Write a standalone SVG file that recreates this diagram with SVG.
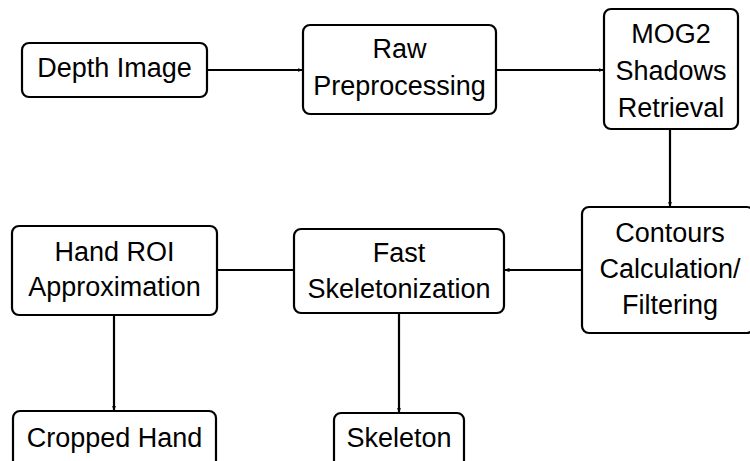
<svg xmlns="http://www.w3.org/2000/svg" width="750" height="461" viewBox="0 0 750 461">
<defs>
<style>
.box{fill:#fff;stroke:#000;stroke-width:2.2}
.t{font-family:"Liberation Sans",Arial,sans-serif;font-size:27px;fill:#000;text-anchor:middle}
.c{stroke:#000;stroke-width:2.2;fill:none}
</style>
<marker id="ah" viewBox="0 0 6 6" refX="5.5" refY="3" markerWidth="6" markerHeight="6" markerUnits="userSpaceOnUse" orient="auto">
<path d="M0,1 L6,3 L0,5 Z" fill="#000"/>
</marker>
</defs>
<rect width="750" height="461" fill="#fff"/>
<g id="connectors">
<line class="c" x1="207" y1="70" x2="303" y2="70" marker-end="url(#ah)"/>
<line class="c" x1="496" y1="70" x2="604" y2="70" marker-end="url(#ah)"/>
<line class="c" x1="670" y1="129" x2="670" y2="207" marker-end="url(#ah)"/>
<line class="c" x1="582" y1="270" x2="504" y2="270" marker-end="url(#ah)"/>
<line class="c" x1="294" y1="270" x2="217" y2="270"/>
<line class="c" x1="114" y1="315" x2="114" y2="411" marker-end="url(#ah)"/>
<line class="c" x1="399" y1="313" x2="399" y2="413" marker-end="url(#ah)"/>
</g>
<g id="depth-image">
<rect class="box" x="22" y="43" width="185" height="54" rx="7"/>
<text class="t" x="114.5" y="77">Depth Image</text>
</g>
<g id="raw-preprocessing">
<rect class="box" x="303" y="25" width="193" height="89" rx="7"/>
<text class="t" x="399.5" y="58">Raw</text>
<text class="t" x="399.5" y="95">Preprocessing</text>
</g>
<g id="mog2">
<rect class="box" x="604" y="9" width="134" height="120" rx="7"/>
<text class="t" x="671" y="43">MOG2</text>
<text class="t" x="671" y="80">Shadows</text>
<text class="t" x="671" y="117">Retrieval</text>
</g>
<g id="contours">
<rect class="box" x="582" y="207" width="172" height="126" rx="7"/>
<text class="t" x="670" y="242">Contours</text>
<text class="t" x="670" y="278">Calculation/</text>
<text class="t" x="670" y="314">Filtering</text>
</g>
<g id="fast-skeletonization">
<rect class="box" x="294" y="229" width="210" height="84" rx="7"/>
<text class="t" x="399" y="262">Fast</text>
<text class="t" x="399" y="298">Skeletonization</text>
</g>
<g id="hand-roi">
<rect class="box" x="12" y="226" width="205" height="89" rx="7"/>
<text class="t" x="114.5" y="261">Hand ROI</text>
<text class="t" x="114.5" y="296">Approximation</text>
</g>
<g id="cropped-hand">
<rect class="box" x="13" y="411" width="203" height="60" rx="7"/>
<text class="t" x="114.5" y="447">Cropped Hand</text>
</g>
<g id="skeleton">
<rect class="box" x="334" y="413" width="130" height="58" rx="7"/>
<text class="t" x="399" y="447">Skeleton</text>
</g>
</svg>
